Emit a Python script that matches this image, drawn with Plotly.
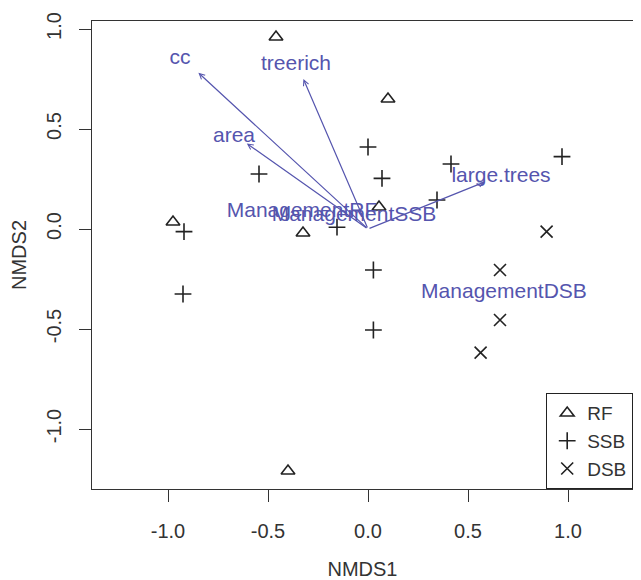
import plotly.graph_objects as go

# ---- data ----
rf_x = [-0.46, -0.975, -0.325, 0.10, 0.055, -0.40]
rf_y = [0.96, 0.035, -0.02, 0.65, 0.11, -1.21]

ssb_x = [-0.92, -0.545, -0.155, 0.0, 0.07, 0.415, 0.97, 0.345, 0.027, 0.027, -0.925]
ssb_y = [-0.013, 0.275, 0.009, 0.41, 0.253, 0.325, 0.362, 0.145, -0.205, -0.505, -0.325]

dsb_x = [0.893, 0.66, 0.66, 0.563]
dsb_y = [-0.013, -0.205, -0.455, -0.618]

vec_names = ["cc", "treerich", "area", "large.trees"]
vec_x = [-0.848, -0.323, -0.606, 0.585]
vec_y = [0.781, 0.75, 0.428, 0.236]

lab_names = ["cc", "treerich", "area", "large.trees",
             "ManagementRF", "ManagementSSB", "ManagementDSB"]
lab_x = [-0.94, -0.36, -0.67, 0.665, -0.33, -0.07, 0.68]
lab_y = [0.85, 0.82, 0.46, 0.262, 0.085, 0.065, -0.32]

tick_vals = [-1.0, -0.5, 0.0, 0.5, 1.0]
tick_text = ["-1.0", "-0.5", "0.0", "0.5", "1.0"]

FONT = "Liberation Sans, Arial, sans-serif"
BLUE = "#5555ae"
INK = "#222222"

fig = go.Figure()

fig.add_trace(go.Scatter(
    x=rf_x, y=rf_y, mode="markers", name="RF",
    marker=dict(symbol="triangle-up-open", size=12, color=INK,
                line=dict(width=1.6, color=INK)),
))
fig.add_trace(go.Scatter(
    x=ssb_x, y=ssb_y, mode="markers", name="SSB",
    marker=dict(symbol="cross-thin-open", size=12, color=INK,
                line=dict(width=1.6, color=INK)),
))
fig.add_trace(go.Scatter(
    x=dsb_x, y=dsb_y, mode="markers", name="DSB",
    marker=dict(symbol="x-thin-open", size=12, color=INK,
                line=dict(width=1.6, color=INK)),
))
fig.add_trace(go.Scatter(
    x=lab_x, y=lab_y, text=lab_names, mode="text", showlegend=False,
    textfont=dict(family=FONT, size=21, color=BLUE), hoverinfo="skip",
))

annotations = []
for vx, vy in zip(vec_x, vec_y):
    annotations.append(dict(
        x=vx, y=vy, ax=0, ay=0, xref="x", yref="y", axref="x", ayref="y",
        text="", showarrow=True, arrowhead=5, arrowsize=0.9,
        arrowwidth=1.2, arrowcolor=BLUE, standoff=0, startstandoff=0,
    ))

fig.update_layout(
    width=633, height=572,
    margin=dict(l=84, r=8, t=13, b=91),
    paper_bgcolor="white", plot_bgcolor="white",
    font=dict(family=FONT, size=20, color="#333333"),
    annotations=annotations,
    legend=dict(
        x=1, y=0, xanchor="right", yanchor="bottom",
        bordercolor="#222222", borderwidth=1.2, bgcolor="white",
        font=dict(family=FONT, size=19, color="#333333"),
        itemwidth=30, tracegroupgap=0,
    ),
    xaxis=dict(
        range=[-1.38, 1.325], showgrid=False, zeroline=False,
        showline=True, mirror=True, linecolor="#333333", linewidth=1.2,
        ticks="outside", ticklen=12, tickwidth=1.2, tickcolor="#333333",
        tickvals=tick_vals, ticktext=tick_text, ticklabelstandoff=12,
        title=dict(text="NMDS1", standoff=20,
                   font=dict(family=FONT, size=20, color="#333333")),
        automargin=False,
    ),
    yaxis=dict(
        range=[-1.30, 1.04], showgrid=False, zeroline=False,
        showline=True, mirror=True, linecolor="#333333", linewidth=1.2,
        ticks="outside", ticklen=12, tickwidth=1.2, tickcolor="#333333",
        tickvals=tick_vals, ticktext=tick_text, tickangle=-90,
        ticklabelstandoff=10,
        title=dict(text="NMDS2", standoff=14,
                   font=dict(family=FONT, size=20, color="#333333")),
        automargin=False,
    ),
)

fig.write_html("out.html")
